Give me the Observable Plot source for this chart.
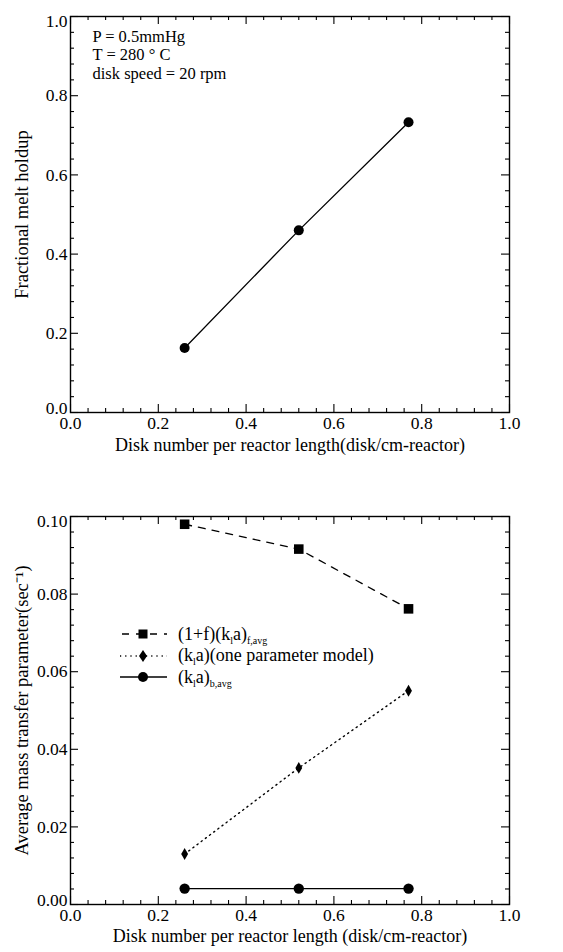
<!DOCTYPE html>
<html>
<head>
<meta charset="utf-8">
<script src="https://cdn.jsdelivr.net/npm/d3@7"></script>
<script src="https://cdn.jsdelivr.net/npm/@observablehq/plot@0.6"></script>
<style>
  html, body { margin: 0; padding: 0; background: #fff; }
  #wrap { position: relative; width: 563px; height: 952px; font-family: "Liberation Serif", "Times New Roman", serif; color: #000; }
  .panel { position: absolute; left: 0; }
  .row { position: absolute; height: 20px; display: flex; align-items: center; white-space: nowrap; font-size: 18px; }
  .row svg { display: block; }
  .row span.t { margin-left: 11px; }
  sub { font-size: 10px; vertical-align: -4px; line-height: 0; }
</style>
</head>
<body>
<div id="wrap"></div>
<script>
// ---- data ----
const diskX = [0.26, 0.52, 0.77];
const holdup = [0.163, 0.46, 0.733];
const kaFavg = [0.098, 0.0916, 0.0762];
const kaOneParam = [0.013, 0.0352, 0.0551];
const kaBavg = [0.0041, 0.0041, 0.0041];

const xMajor = [0.0, 0.2, 0.4, 0.6, 0.8, 1.0];
const yMajorTop = [0.0, 0.2, 0.4, 0.6, 0.8, 1.0];
const yMajorBottom = [0.00, 0.02, 0.04, 0.06, 0.08, 0.10];

const annotation = ["P = 0.5mmHg", "T = 280 ° C", "disk speed = 20 rpm"];
const xTitleTop = "Disk number per reactor length(disk/cm-reactor)";
const yTitleTop = "Fractional melt holdup";
const xTitleBottom = "Disk number per reactor length (disk/cm-reactor)";
const yTitleBottom = "Average mass transfer parameter(sec\u207B\u00B9)";
const legendLabels = [
  "(1+f)(k<sub>l</sub>a)<sub>f,avg</sub>",
  "(k<sub>l</sub>a)(one parameter model)",
  "(k<sub>l</sub>a)<sub>b,avg</sub>"
];

// ---- helpers ----
const W = 563;
const mL = 70, mR = 54;
const pw = W - mL - mR;
const FONT = "Liberation Serif, Times New Roman, serif";
const TICK_FS = 17.5;

function minors(majors, n) {
  const out = [];
  for (let i = 0; i < majors.length - 1; i++) {
    const a = majors[i], b = majors[i + 1];
    for (let k = 1; k < n; k++) out.push(a + (b - a) * k / n);
  }
  return out;
}

function boxTicks(xMaj, yMaj, ph) {
  const L = 8, l = 4;
  const xMin = minors(xMaj, 5), yMin = minors(yMaj, 5);
  const s = {stroke: "#000", strokeWidth: 1.1};
  return [
    Plot.tickX(xMaj, {x: d => d, insetTop: ph - L, ...s}),
    Plot.tickX(xMaj, {x: d => d, insetBottom: ph - L, ...s}),
    Plot.tickX(xMin, {x: d => d, insetTop: ph - l, ...s}),
    Plot.tickX(xMin, {x: d => d, insetBottom: ph - l, ...s}),
    Plot.tickY(yMaj, {y: d => d, insetRight: pw - L, ...s}),
    Plot.tickY(yMaj, {y: d => d, insetLeft: pw - L, ...s}),
    Plot.tickY(yMin, {y: d => d, insetRight: pw - l, ...s}),
    Plot.tickY(yMin, {y: d => d, insetLeft: pw - l, ...s})
  ];
}

function axisLabels(yMaj, fmt) {
  const common = {tickSize: 0, label: null, fontSize: TICK_FS, fill: "#000"};
  return [
    Plot.axisX(xMajor, {...common, tickPadding: 4, tickFormat: d3.format(".1f")}),
    Plot.axisY([yMaj[0]], {...common, tickPadding: 3, tickFormat: d3.format(fmt), dy: -4}),
    Plot.axisY(yMaj.slice(1, -1), {...common, tickPadding: 3, tickFormat: d3.format(fmt)}),
    Plot.axisY([yMaj[yMaj.length - 1]], {...common, tickPadding: 3, tickFormat: d3.format(fmt), dy: 5})
  ];
}

const wrap = document.getElementById("wrap");

// ---- top panel ----
{
  const H = 470, mT = 16, mB = 58;
  const ph = H - mT - mB;
  const data = diskX.map((x, i) => ({x, y: holdup[i]}));
  const chart = Plot.plot({
    width: W, height: H,
    marginLeft: mL, marginRight: mR, marginTop: mT, marginBottom: mB,
    style: {fontFamily: FONT, fontSize: "18px", color: "#000", background: "#fff"},
    x: {domain: [0, 1]},
    y: {domain: [0, 1]},
    marks: [
      Plot.frame({stroke: "#000", strokeWidth: 1.4}),
      ...boxTicks(xMajor, yMajorTop, ph),
      ...axisLabels(yMajorTop, ".1f"),
      Plot.text([xTitleTop], {frameAnchor: "bottom", lineAnchor: "middle", dy: 33, fontSize: 18, fill: "#000"}),
      Plot.text([yTitleTop], {frameAnchor: "left", textAnchor: "middle", rotate: -90, dx: -48, fontSize: 18.5, fill: "#000"}),
      Plot.text([annotation.join("\n")], {frameAnchor: "top-left", textAnchor: "start", lineAnchor: "top", dx: 22, dy: 12, lineHeight: 1.13, fontSize: 16.5, fill: "#000"}),
      Plot.line(data, {x: "x", y: "y", stroke: "#000", strokeWidth: 1.3}),
      Plot.dot(data, {x: "x", y: "y", r: 5, fill: "#000", stroke: "none"})
    ]
  });
  const d = document.createElement("div");
  d.className = "panel"; d.style.top = "0px";
  d.appendChild(chart);
  wrap.appendChild(d);
}

// ---- bottom panel ----
const series = [
  {values: kaFavg, symbol: "square", r: 5.4, dash: "7,7"},
  {values: kaOneParam, symbol: "diamond", r: 3.6, dash: "1.2,4"},
  {values: kaBavg, symbol: "circle", r: 5.2, dash: null}
];
{
  const H = 482, mT = 46, mB = 48, top = 470;
  const ph = H - mT - mB;
  const marks = [
    Plot.frame({stroke: "#000", strokeWidth: 1.4}),
    ...boxTicks(xMajor, yMajorBottom, ph),
    ...axisLabels(yMajorBottom, ".2f"),
    Plot.text([xTitleBottom], {frameAnchor: "bottom", lineAnchor: "middle", dy: 32, fontSize: 18, fill: "#000"}),
    Plot.text([yTitleBottom], {frameAnchor: "left", textAnchor: "middle", rotate: -90, dx: -48, fontSize: 18.5, fill: "#000"})
  ];
  for (const s of series) {
    const data = diskX.map((x, i) => ({x, y: s.values[i]}));
    marks.push(Plot.line(data, {x: "x", y: "y", stroke: "#000", strokeWidth: s.dash === "1.2,4" ? 1.4 : 1.3, strokeDasharray: s.dash}));
    marks.push(Plot.dot(data, {x: "x", y: "y", r: s.r, symbol: s.symbol, fill: "#000", stroke: "none"}));
  }
  const chart = Plot.plot({
    width: W, height: H,
    marginLeft: mL, marginRight: mR, marginTop: mT, marginBottom: mB,
    style: {fontFamily: FONT, fontSize: "18px", color: "#000", background: "#fff"},
    x: {domain: [0, 1]},
    y: {domain: [0, 0.1]},
    marks
  });
  const d = document.createElement("div");
  d.className = "panel"; d.style.top = top + "px";
  d.appendChild(chart);
  wrap.appendChild(d);
}

// ---- legend (inside bottom panel) ----
{
  const rowsY = [634, 655.5, 677];
  const sym = {
    square: '<rect x="18.5" y="5.5" width="9" height="9" fill="#000"/>',
    diamond: '<path d="M23,4 L27,10 L23,16 L19,10 Z" fill="#000"/>',
    circle: '<circle cx="23" cy="10" r="5" fill="#000"/>'
  };
  series.forEach((s, i) => {
    const row = document.createElement("div");
    row.className = "row";
    row.style.left = "120px";
    row.style.top = (rowsY[i] - 10) + "px";
    const dash = s.dash ? `stroke-dasharray="${s.dash}"` : "";
    const off = s.dash === "7,7" ? 'stroke-dashoffset="-2"' : "";
    row.innerHTML = `<svg width="47" height="20"><line x1="0" y1="10" x2="47" y2="10" stroke="#000" stroke-width="1.4" ${dash} ${off}/>${sym[s.symbol]}</svg><span class="t">${legendLabels[i]}</span>`;
    wrap.appendChild(row);
  });
}
</script>
</body>
</html>
